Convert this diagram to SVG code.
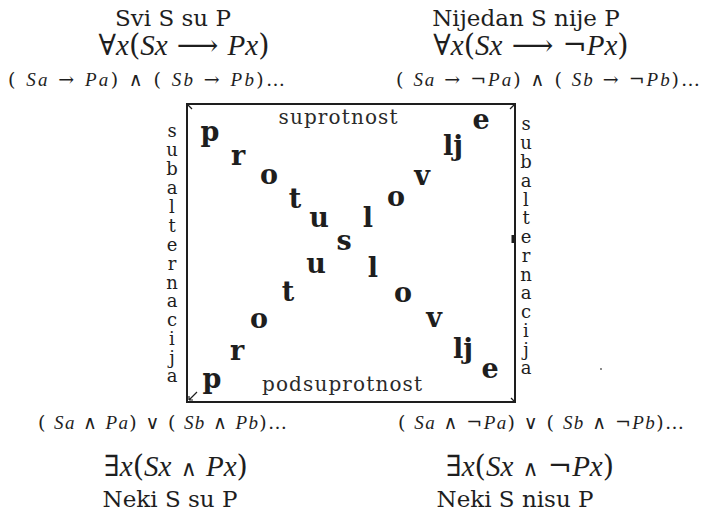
<svg xmlns="http://www.w3.org/2000/svg" width="705" height="514" viewBox="0 0 705 514">
<style>
text{fill:#1e1e1e}
.t{font-family:"DejaVu Serif","Liberation Serif",serif;font-size:23px}
.f{font-family:"DejaVu Serif","Liberation Serif",serif;font-size:29px}
.sm{font-family:"DejaVu Serif","Liberation Serif",serif;font-size:19px}
.i{font-family:"Liberation Serif",serif;font-style:italic}
.w{font-size:22px}
.lab{font-family:"DejaVu Serif","Liberation Serif",serif;font-size:20px;fill:#2a2a2a}
.big{font-family:"DejaVu Serif","Liberation Serif",serif;font-size:27px;font-weight:bold;text-anchor:middle}
.v{font-family:"DejaVu Serif","Liberation Serif",serif;font-size:18px;text-anchor:middle}
.edge{stroke:#1e1e1e;stroke-width:2;fill:none}
.tick{stroke:#1e1e1e;stroke-width:1.2;fill:none}
</style>
<rect width="705" height="514" fill="#fff"/>

<g id="node-A">
<text class="t" x="173" y="26" text-anchor="middle">Svi S su P</text>
<text class="f" x="184" y="55" text-anchor="middle">∀<tspan class="i">x</tspan>(<tspan class="i">Sx</tspan> ⟶ <tspan class="i">Px</tspan>)</text>
<text class="sm" x="8" y="86" textLength="277" lengthAdjust="spacing">( <tspan class="i">Sa</tspan> → <tspan class="i">Pa</tspan>) ∧ ( <tspan class="i">Sb</tspan> → <tspan class="i">Pb</tspan>)…</text>
</g>

<g id="node-E">
<text class="t" x="526" y="26" text-anchor="middle">Nijedan S nije P</text>
<text class="f" x="531" y="55" text-anchor="middle">∀<tspan class="i">x</tspan>(<tspan class="i">Sx</tspan> ⟶ ¬<tspan class="i">Px</tspan>)</text>
<text class="sm" x="396" y="86" textLength="304" lengthAdjust="spacing">( <tspan class="i">Sa</tspan> → ¬<tspan class="i">Pa</tspan>) ∧ ( <tspan class="i">Sb</tspan> → ¬<tspan class="i">Pb</tspan>)…</text>
</g>

<g id="node-I">
<text class="sm" x="38" y="429" textLength="249" lengthAdjust="spacing">( <tspan class="i">Sa</tspan> ∧ <tspan class="i">Pa</tspan>) ∨ ( <tspan class="i">Sb</tspan> ∧ <tspan class="i">Pb</tspan>)…</text>
<text class="f" x="176" y="476" text-anchor="middle">∃<tspan class="i">x</tspan>(<tspan class="i">Sx</tspan> <tspan class="w">∧</tspan> <tspan class="i">Px</tspan>)</text>
<text class="t" x="170" y="507" text-anchor="middle">Neki S su P</text>
</g>

<g id="node-O">
<text class="sm" x="398" y="429" textLength="286" lengthAdjust="spacing">( <tspan class="i">Sa</tspan> ∧ ¬<tspan class="i">Pa</tspan>) ∨ ( <tspan class="i">Sb</tspan> ∧ ¬<tspan class="i">Pb</tspan>)…</text>
<text class="f" x="530" y="476" text-anchor="middle">∃<tspan class="i">x</tspan>(<tspan class="i">Sx</tspan> <tspan class="w">∧</tspan> ¬<tspan class="i">Px</tspan>)</text>
<text class="t" x="515" y="507" text-anchor="middle">Neki S nisu P</text>
</g>

<g id="connectors">
<path class="edge" d="M187,104 H515 V402 H187 Z"/>
<path class="tick" d="M188,105 L192,109"/>
<path class="tick" d="M514,105 L510,109"/>
<path class="tick" d="M197,392 L189,400 M189,400 L189,396 M189,400 L193,400"/>
<path class="tick" d="M514,401 L511,398"/>
<path d="M513,235 L513,243" stroke="#1e1e1e" stroke-width="3"/>
</g>

<g id="label-suprotnost">
<text class="lab" x="338" y="124" text-anchor="middle" textLength="119" lengthAdjust="spacing">suprotnost</text>
</g>
<g id="label-podsuprotnost">
<text class="lab" x="342" y="391" text-anchor="middle" textLength="160" lengthAdjust="spacing">podsuprotnost</text>
</g>

<g id="label-subalternacija-left">
<text class="v" x="172" y="137">s</text><text class="v" x="172" y="156">u</text><text class="v" x="172" y="175">b</text><text class="v" x="172" y="194">a</text><text class="v" x="172" y="213">l</text><text class="v" x="172" y="232">t</text><text class="v" x="172" y="251">e</text><text class="v" x="172" y="270">r</text><text class="v" x="172" y="289">n</text><text class="v" x="172" y="307">a</text><text class="v" x="172" y="326">c</text><text class="v" x="172" y="345">i</text><text class="v" x="172" y="364">j</text><text class="v" x="172" y="382">a</text>
</g>
<g id="label-subalternacija-right">
<text class="v" x="526" y="130">s</text><text class="v" x="526" y="149">u</text><text class="v" x="526" y="168">b</text><text class="v" x="526" y="187">a</text><text class="v" x="526" y="206">l</text><text class="v" x="526" y="224">t</text><text class="v" x="526" y="243">e</text><text class="v" x="526" y="262">r</text><text class="v" x="526" y="281">n</text><text class="v" x="526" y="299">a</text><text class="v" x="526" y="318">c</text><text class="v" x="526" y="337">i</text><text class="v" x="526" y="356">j</text><text class="v" x="526" y="374">a</text>
</g>

<g id="label-protusl-down">
<text class="big" x="210" y="141">p</text>
<text class="big" x="238" y="165">r</text>
<text class="big" x="269" y="184">o</text>
<text class="big" x="295" y="208">t</text>
<text class="big" x="319" y="227">u</text>
<text class="big" x="344" y="250">s</text>
<text class="big" x="368" y="227">l</text>
<text class="big" x="396" y="206">o</text>
<text class="big" x="422" y="185">v</text>
<text class="big" x="453" y="155">lj</text>
<text class="big" x="481" y="129">e</text>
</g>
<g id="label-protusl-up">
<text class="big" x="212" y="388">p</text>
<text class="big" x="237" y="360">r</text>
<text class="big" x="259" y="328">o</text>
<text class="big" x="288" y="301">t</text>
<text class="big" x="316" y="273">u</text>
<text class="big" x="373" y="277">l</text>
<text class="big" x="403" y="302">o</text>
<text class="big" x="434" y="327">v</text>
<text class="big" x="463" y="358">lj</text>
<text class="big" x="490" y="378">e</text>
</g>
<circle cx="601" cy="369" r="0.9" fill="#555"/>
</svg>
